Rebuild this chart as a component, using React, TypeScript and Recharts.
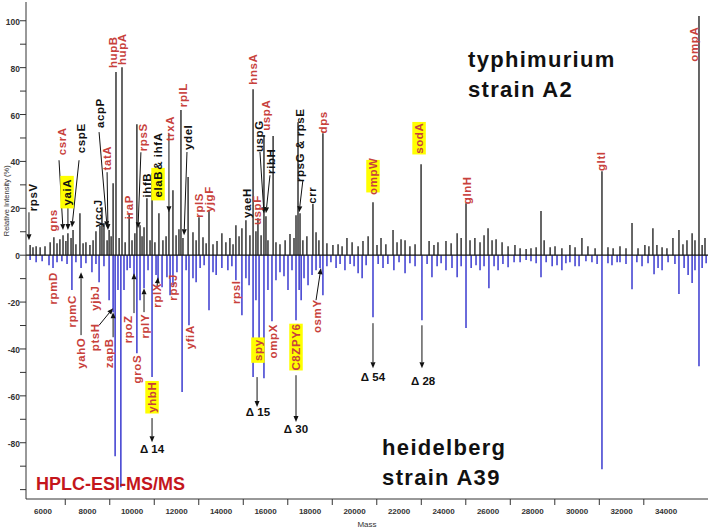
import { ComposedChart, ErrorBar, ReferenceDot, ReferenceLine, Scatter, XAxis, YAxis } from 'recharts';

const FONT = "Arial, 'Liberation Sans', sans-serif";
const RED = '#c8413c';

// [mass (Da), relative intensity (%)]
const typhimuriumA2: [number, number][] = [
  [5420, 4.3], [5550, 3.4], [5690, 3.8], [5870, 3.4], [6090, 3.8], [6320, 5.5], [6490, 7.7], [6630, 5.1],
  [6760, 6.8], [6900, 8.5], [7030, 6.0], [7120, 9.4], [7260, 7.3], [7350, 10.7], [7480, 4.7], [7660, 17.9],
  [7800, 5.1], [7930, 5.5], [8110, 4.3], [8250, 6.4], [8380, 10.2], [8560, 12.4], [8650, 20.5], [8740, 13.7],
  [8880, 6.4], [8970, 10.7], [9060, 8.1], [9150, 30.7], [9280, 78.1], [9420, 7.3], [9550, 80.2], [9690, 5.5],
  [9870, 17.9], [10000, 6.4], [10130, 9.4], [10220, 55.9], [10360, 12.8], [10450, 8.1], [10540, 11.9], [10670, 24.3],
  [10810, 6.4], [10900, 35.0], [11030, 5.5], [11210, 17.9], [11390, 6.4], [11530, 8.1], [11660, 19.2], [11840, 27.7],
  [11980, 8.5], [12110, 11.1], [12200, 61.9], [12290, 7.3], [12520, 33.3], [12740, 9.8], [12880, 6.4], [13010, 16.2],
  [13190, 7.7], [13330, 5.1], [13460, 19.2], [13640, 4.7], [13820, 6.0], [14040, 9.4], [14220, 5.5], [14400, 7.3],
  [14540, 4.7], [14670, 12.8], [14810, 8.1], [14940, 11.5], [15120, 14.9], [15300, 8.5], [15440, 70.8], [15570, 10.2],
  [15660, 15.8], [15800, 8.5], [15930, 51.2], [16020, 16.6], [16110, 6.4], [16340, 50.8], [16470, 5.5], [16650, 4.7],
  [16880, 6.4], [17100, 9.0], [17280, 7.3], [17370, 17.0], [17460, 56.7], [17550, 17.9], [17680, 6.4], [17860, 8.1],
  [18130, 21.8], [18270, 9.8], [18400, 6.4], [18580, 52.0], [18760, 5.1], [19030, 4.3], [19260, 4.7], [19440, 3.8],
  [19660, 7.3], [19890, 5.5], [20160, 3.8], [20380, 6.0], [20610, 8.1], [20830, 22.6], [21010, 4.3], [21190, 7.3],
  [21410, 4.7], [21730, 10.7], [21910, 5.5], [22090, 6.8], [22270, 6.4], [22490, 3.8], [22720, 4.7], [22990, 38.8],
  [23350, 6.0], [23570, 4.3], [23750, 5.5], [24110, 6.0], [24340, 5.1], [24610, 9.4], [24790, 7.3], [25010, 22.2],
  [25190, 6.4], [25410, 7.3], [25640, 5.5], [25820, 8.5], [26000, 11.5], [26180, 6.4], [26360, 6.8], [26630, 5.5],
  [26900, 3.8], [27210, 4.3], [27440, 3.0], [27710, 2.6], [27930, 3.0], [28160, 3.4], [28380, 18.8], [28520, 6.4],
  [28790, 3.4], [29010, 3.8], [29320, 3.0], [29680, 4.3], [29910, 3.4], [30220, 7.3], [30490, 3.8], [30810, 3.0],
  [31120, 35.8], [31390, 3.4], [31620, 3.0], [31930, 3.8], [32200, 3.0], [32470, 13.7], [32740, 3.0], [33050, 4.3],
  [33230, 3.8], [33410, 11.5], [33590, 4.3], [33820, 3.4], [34040, 3.0], [34310, 7.3], [34580, 10.7], [34760, 4.7],
  [34940, 6.4], [35170, 9.4], [35300, 6.4], [35480, 102], [35620, 4.3], [35750, 7.3],
];

const heidelbergA39: [number, number][] = [
  [5420, -2.1], [5690, -3.0], [5960, -2.6], [6270, -4.3], [6450, -5.5], [6630, -3.0], [6850, -2.6], [7080, -3.8],
  [7300, -14.9], [7480, -3.0], [7710, -5.5], [7930, -3.4], [8200, -7.3], [8380, -3.8], [8520, -11.5], [8740, -4.7],
  [8970, -19.2], [9150, -24.3], [9240, -85.8], [9370, -14.9], [9500, -99.0], [9640, -14.9], [9780, -6.4], [9910, -5.5],
  [10090, -8.5], [10220, -41.8], [10360, -19.2], [10540, -14.1], [10720, -6.4], [10900, -52.0], [11080, -8.5], [11170, -10.7],
  [11350, -13.7], [11570, -9.4], [11710, -17.1], [11840, -12.8], [12020, -7.3], [12250, -58.4], [12430, -6.4], [12560, -29.9],
  [12740, -9.8], [12880, -11.5], [13060, -5.5], [13240, -4.3], [13460, -23.5], [13640, -7.3], [13780, -8.5], [14040, -5.5],
  [14310, -6.4], [14490, -4.7], [14670, -10.7], [14940, -25.6], [15120, -9.8], [15260, -12.8], [15440, -52.0], [15570, -19.2],
  [15710, -36.3], [15930, -52.5], [16110, -14.9], [16290, -28.2], [16470, -10.7], [16650, -7.3], [16830, -9.0], [17010, -14.9],
  [17190, -6.4], [17370, -27.7], [17510, -14.9], [17600, -19.2], [17730, -9.8], [17910, -12.8], [18090, -8.5], [18270, -6.4],
  [18450, -5.5], [18580, -17.1], [18760, -4.7], [18940, -3.0], [19170, -5.5], [19350, -3.8], [19570, -6.4], [19800, -3.8],
  [19980, -4.7], [20160, -7.7], [20340, -9.8], [20520, -4.3], [20830, -26.5], [21060, -3.8], [21280, -5.5], [21500, -3.8],
  [21770, -6.4], [22000, -3.0], [22270, -7.7], [22490, -3.4], [22720, -4.7], [23030, -27.7], [23260, -3.8], [23480, -9.4],
  [23710, -4.7], [23890, -3.4], [24110, -6.4], [24380, -5.5], [24610, -9.4], [24790, -4.7], [25010, -31.1], [25240, -5.5],
  [25460, -4.3], [25640, -6.4], [25820, -4.7], [26040, -14.1], [26270, -4.7], [26450, -6.4], [26670, -3.8], [26900, -5.1],
  [27170, -3.0], [27440, -3.0], [27710, -2.1], [27930, -2.6], [28160, -3.4], [28380, -9.4], [28610, -3.0], [28880, -4.7],
  [29100, -4.3], [29320, -6.4], [29500, -3.4], [29680, -3.0], [29910, -4.7], [30090, -4.7], [30400, -2.6], [30670, -3.0],
  [30900, -3.8], [31120, -91.3], [31390, -3.4], [31570, -4.3], [31800, -3.0], [31930, -3.0], [32200, -3.8], [32470, -14.5],
  [32690, -3.0], [32920, -4.7], [33190, -3.4], [33460, -8.1], [33640, -5.5], [33820, -6.4], [34090, -3.0], [34400, -3.8],
  [34580, -16.6], [34810, -5.5], [34990, -8.5], [35170, -11.9], [35300, -6.4], [35480, -47.4], [35620, -5.5], [35800, -3.4],
];

const massTicks = [
  6000, 7000, 8000, 9000, 10000, 11000, 12000, 13000, 14000, 15000, 16000, 17000, 18000, 19000, 20000,
  21000, 22000, 23000, 24000, 25000, 26000, 27000, 28000, 29000, 30000, 31000, 32000, 33000, 34000,
];
const intensityTicks = [100, 90, 80, 70, 60, 50, 40, 30, 20, 10, 0, -10, -20, -30, -40, -50, -60, -70, -80, -90, -100];

type Tag = { name: string; mass: number; at: number; red?: boolean; mark?: boolean };

const upperTags: Tag[] = [
  { name: 'rpsV', mass: 5550, at: 24.7 },
  { name: 'gns', mass: 6450, at: 14.9, red: true },
  { name: 'csrA', mass: 6850, at: 48.6, red: true },
  { name: 'yaiA', mass: 7080, at: 26.9, mark: true },
  { name: 'cspE', mass: 7710, at: 49.9 },
  { name: 'acpP', mass: 8560, at: 60.6 },
  { name: 'yccJ', mass: 8470, at: 17.9 },
  { name: 'tatA', mass: 8880, at: 41.4, red: true },
  { name: 'hupB', mass: 9150, at: 86.6, red: true },
  { name: 'hupA', mass: 9550, at: 87.9, red: true },
  { name: 'iraP', mass: 9870, at: 20.5, red: true },
  { name: 'rpsS', mass: 10490, at: 50.3, red: true },
  { name: 'ihfB', mass: 10670, at: 29.9 },
  { name: 'elaB', mass: 11170, at: 30.3, mark: true },
  { name: '& ihfA', mass: 11170, at: 44.4 },
  { name: 'trxA', mass: 11710, at: 54.0, red: true },
  { name: 'rplL', mass: 12290, at: 68.3, red: true },
  { name: 'ydeI', mass: 12520, at: 50.3 },
  { name: 'rplS', mass: 13010, at: 21.3, red: true },
  { name: 'yjgF', mass: 13460, at: 23.9, red: true },
  { name: 'yaeH', mass: 15170, at: 22.2 },
  { name: 'uspF', mass: 15620, at: 19.2, red: true },
  { name: 'hnsA', mass: 15440, at: 79.4, red: true },
  { name: 'uspG', mass: 15710, at: 50.8 },
  { name: 'uspA', mass: 16020, at: 59.7, red: true },
  { name: 'ribH', mass: 16250, at: 40.1 },
  { name: 'rpsG & rpsE', mass: 17550, at: 46.9 },
  { name: 'crr', mass: 18090, at: 25.6 },
  { name: 'dps', mass: 18580, at: 56.7, red: true },
  { name: 'ompW', mass: 20830, at: 33.7, red: true, mark: true },
  { name: 'sodA', mass: 22900, at: 49.9, red: true, mark: true },
  { name: 'glnH', mass: 25060, at: 27.7, red: true },
  { name: 'gltI', mass: 31080, at: 40.1, red: true },
  { name: 'ompA', mass: 35260, at: 90.0, red: true },
];

const lowerTags: Tag[] = [
  { name: 'rpmD', mass: 6450, at: -14.1, red: true },
  { name: 'rpmC', mass: 7300, at: -23.9, red: true },
  { name: 'yahO', mass: 7710, at: -41.8, red: true },
  { name: 'yjbJ', mass: 8340, at: -18.3, red: true },
  { name: 'ptsH', mass: 8340, at: -35.0, red: true },
  { name: 'zapB', mass: 8970, at: -41.8, red: true },
  { name: 'rpoZ', mass: 9820, at: -31.6, red: true },
  { name: 'groS', mass: 10220, at: -48.6, red: true },
  { name: 'rplY', mass: 10580, at: -30.3, red: true },
  { name: 'rplX', mass: 11120, at: -17.1, red: true },
  { name: 'rpsJ', mass: 11840, at: -13.7, red: true },
  { name: 'yfiA', mass: 12610, at: -35.0, red: true },
  { name: 'yhbH', mass: 10900, at: -60.6, red: true, mark: true },
  { name: 'rpsI', mass: 14670, at: -15.8, red: true },
  { name: 'spy', mass: 15660, at: -40.5, red: true, mark: true },
  { name: 'ompX', mass: 16340, at: -36.7, red: true },
  { name: 'C8ZPY6', mass: 17370, at: -39.2, red: true, mark: true },
  { name: 'osmY', mass: 18310, at: -26.0, red: true },
];

const shiftTags: Tag[] = [
  { name: 'Δ 14', mass: 10900, at: -82.8 },
  { name: 'Δ 15', mass: 15660, at: -67.0 },
  { name: 'Δ 30', mass: 17370, at: -74.2 },
  { name: 'Δ 54', mass: 20830, at: -52.0 },
  { name: 'Δ 28', mass: 23080, at: -53.8 },
];

// [from mass, from intensity, to mass, to intensity]
const pointers: [number, number, number, number][] = [
  [5370, 18.3, 5370, 6.4],
  [6720, 40.5, 6900, 10.7],
  [7120, 20.1, 7120, 10.7],
  [7620, 40.5, 7300, 11.9],
  [8520, 52.5, 8880, 11.9],
  [8880, 35.4, 8920, 10.7],
  [10400, 43.9, 10270, 11.5],
  [11660, 52.0, 11660, 18.3],
  [12470, 44.0, 12340, 8.5],
  [15750, 44.0, 15930, 17.9],
  [16200, 34.1, 16020, 17.9],
  [17680, 32.0, 17510, 18.3],
  [7710, -34.1, 7710, -7.3],
  [8520, -29.9, 9150, -22.6],
  [9150, -35.0, 9150, -24.3],
  [10090, -24.7, 10090, -7.7],
  [10540, -24.3, 10540, -14.1],
  [11120, -13.7, 11170, -9.4],
  [10900, -69.5, 10900, -79.8],
  [15620, -52.0, 15620, -64.8],
  [17370, -51.2, 17370, -71.2],
  [18270, -19.2, 18490, -5.5],
  [20830, -29.0, 20830, -48.2],
  [23030, -29.9, 23030, -48.2],
];

// each peak is drawn as an error bar spanning from the baseline (0) to its intensity
const toSticks = (peaks: [number, number][]) =>
  peaks.map(([mass, v]) => ({ mass, v, span: v > 0 ? [v, 0] : [0, -v] }));
const a2Sticks = toSticks(typhimuriumA2);
const a39Sticks = toSticks(heidelbergA39);

const NoDot = () => <g />;

const MassTick = (p: any) => {
  const { x, y, payload } = p;
  const v = payload.value;
  if (v % 2000 === 0) {
    return (
      <text x={x} y={y + 7} textAnchor="middle" fontSize={8} fontWeight="bold" fill="#333" fontFamily={FONT}>
        {v}
      </text>
    );
  }
  return <line x1={x} y1={y - 8} x2={x} y2={y - 2} stroke="#333" />;
};

const IntensityTick = (p: any) => {
  const { x, y, payload } = p;
  const v = payload.value;
  return (
    <g>
      <line x1={x} y1={y} x2={x + 6} y2={y} stroke="#333" />
      {v % 20 === 0 && v > -100 && (
        <text x={x} y={y + 1} textAnchor="end" dominantBaseline="central" fontSize={8.5} fontWeight="bold" fill="#333" fontFamily={FONT}>
          {v}
        </text>
      )}
    </g>
  );
};

const geneTag = (t: Tag) => (p: any) => {
  const { cx, cy } = p;
  const fs = 11.5;
  const len = t.name.length * fs * 0.62;
  return (
    <g>
      {t.mark && <rect x={cx - fs / 2 - 1} y={cy - len / 2 - 2} width={fs + 2} height={len + 4} fill="#ffff00" />}
      <text
        x={cx}
        y={cy}
        transform={`rotate(-90 ${cx} ${cy})`}
        textAnchor="middle"
        dominantBaseline="central"
        fontSize={fs}
        fontWeight="bold"
        letterSpacing={0.6}
        fontFamily={FONT}
        fill={t.red ? RED : '#111'}
      >
        {t.name}
      </text>
    </g>
  );
};

const shiftTag = (t: Tag) => (p: any) => (
  <text x={p.cx} y={p.cy} textAnchor="middle" dominantBaseline="central" fontSize={11.5} fontWeight="bold" fontFamily={FONT} fill="#111">
    {t.name}
  </text>
);

const Pointer = (p: any) => {
  const { x1, y1, x2, y2 } = p;
  const a = Math.atan2(y2 - y1, x2 - x1);
  const bx = x2 - 6 * Math.cos(a);
  const by = y2 - 6 * Math.sin(a);
  const s = Math.sin(a) * 2.5;
  const c = Math.cos(a) * 2.5;
  return (
    <g>
      <line x1={x1} y1={y1} x2={bx} y2={by} stroke="#111" strokeWidth={1} />
      <polygon points={`${x2},${y2} ${bx - s},${by + c} ${bx + s},${by - c}`} fill="#111" />
    </g>
  );
};

const title = (lines: string[], size: number, color: string, gap: number) => (p: any) => (
  <text x={p.cx} y={p.cy} fontSize={size} fontWeight="bold" fontFamily={FONT} fill={color} letterSpacing={size > 20 ? 1.3 : 0}>
    {lines.map((l, i) => (
      <tspan key={l} x={p.cx} dy={i ? gap : 0}>
        {l}
      </tspan>
    ))}
  </text>
);

const IntensityLabel = (p: any) => {
  const { viewBox } = p;
  const x = viewBox.x + 7;
  const y = viewBox.y + viewBox.height * 0.4;
  return (
    <text x={x} y={y} transform={`rotate(-90 ${x} ${y})`} textAnchor="middle" dominantBaseline="central" fontSize={7.5} fill="#333" fontFamily={FONT}>
      Relative Intensity (%)
    </text>
  );
};

export default function App() {
  return (
    <div style={{ position: 'absolute', left: 0, top: 0, width: 709, height: 531, background: '#fff' }}>
      <ComposedChart width={709} height={531} margin={{ top: 2, right: 1, bottom: 0, left: 0 }}>
        <XAxis
          dataKey="mass"
          type="number"
          domain={[5236, 35885]}
          allowDataOverflow
          ticks={massTicks}
          interval={0}
          tick={<MassTick />}
          tickLine={false}
          tickSize={6}
          tickMargin={2}
          height={32}
          axisLine={{ stroke: '#333' }}
          label={{ value: 'Mass', position: 'insideBottom', offset: 4, fontSize: 8, fill: '#333', fontFamily: FONT }}
        />
        <YAxis
          dataKey="v"
          type="number"
          domain={[-104, 108]}
          allowDataOverflow
          ticks={intensityTicks}
          interval={0}
          tick={<IntensityTick />}
          tickLine={false}
          tickSize={6}
          tickMargin={0}
          width={26}
          axisLine={{ stroke: '#333' }}
          label={<IntensityLabel />}
        />
        <Scatter name="heidelberg A39" data={a39Sticks} dataKey="v" shape={NoDot} isAnimationActive={false}>
          <ErrorBar dataKey="span" direction="y" width={0} stroke="#1c1cc8" strokeWidth={1.3} isAnimationActive={false} />
        </Scatter>
        <Scatter name="typhimurium A2" data={a2Sticks} dataKey="v" shape={NoDot} isAnimationActive={false}>
          <ErrorBar dataKey="span" direction="y" width={0} stroke="#151515" strokeWidth={1.3} isAnimationActive={false} />
        </Scatter>
        <ReferenceLine y={0} stroke="#111" strokeWidth={1.2} />
        {pointers.map(([m1, v1, m2, v2], i) => (
          <ReferenceLine key={`p${i}`} segment={[{ x: m1, y: v1 }, { x: m2, y: v2 }]} shape={Pointer} />
        ))}
        {[...upperTags, ...lowerTags].map((t) => (
          <ReferenceDot key={t.name + t.at} x={t.mass} y={t.at} shape={geneTag(t)} />
        ))}
        {shiftTags.map((t) => (
          <ReferenceDot key={t.name} x={t.mass} y={t.at} shape={shiftTag(t)} />
        ))}
        <ReferenceDot x={25100} y={80.2} shape={title(['typhimurium', 'strain A2'], 22, '#111', 30)} />
        <ReferenceDot x={21240} y={-85.3} shape={title(['heidelberg', 'strain A39'], 22, '#111', 30)} />
        <ReferenceDot x={5690} y={-100.3} shape={title(['HPLC-ESI-MS/MS'], 18, '#c4161c', 0)} />
      </ComposedChart>
    </div>
  );
}
